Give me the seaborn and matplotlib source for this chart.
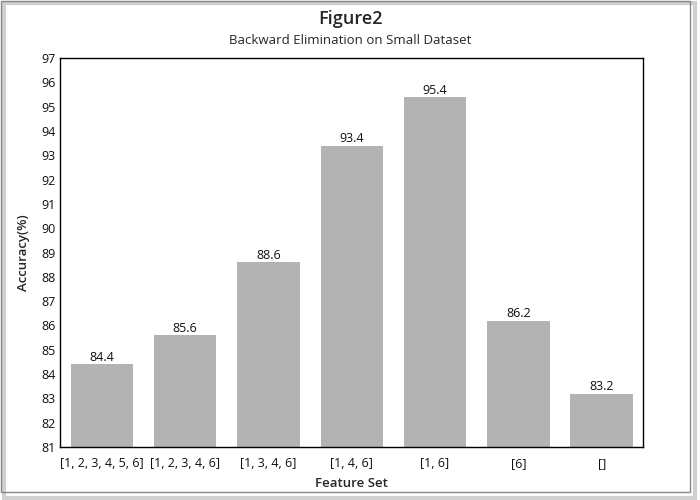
import matplotlib
matplotlib.use("Agg")
import matplotlib.pyplot as plt
import seaborn as sns
import pandas as pd
from matplotlib.patches import Rectangle

# data
feature_sets = ["[1, 2, 3, 4, 5, 6]", "[1, 2, 3, 4, 6]", "[1, 3, 4, 6]",
                "[1, 4, 6]", "[1, 6]", "[6]", "[]"]
accuracy = [84.4, 85.6, 88.6, 93.4, 95.4, 86.2, 83.2]
y_ticks = list(range(81, 98))

df = pd.DataFrame({"Feature Set": feature_sets, "Accuracy": accuracy})

sns.set_style("white")
plt.rcParams["font.family"] = ["Open Sans", "DejaVu Sans"]

fig = plt.figure(figsize=(7, 5), dpi=100)
ax = fig.add_axes([0.086, 0.106, 0.833, 0.778])

sns.barplot(data=df, x="Feature Set", y="Accuracy", color="#b3b3b3",
            saturation=1, width=0.75, linewidth=0, ax=ax)

for i, v in enumerate(accuracy):
    ax.text(i, v + 0.01, f"{v}", ha="center", va="bottom", fontsize=9, color="#111111")

ax.set_ylim(81, 97)
ax.set_yticks(y_ticks)
ax.tick_params(axis="both", length=0, labelsize=9, colors="#111111")
ax.tick_params(axis="x", pad=7)
ax.set_xlabel("Feature Set", fontsize=9.5, labelpad=5, fontweight="semibold")
ax.set_ylabel("Accuracy(%)", fontsize=9.5, labelpad=8, fontweight="semibold")
for s in ax.spines.values():
    s.set_color("black")
    s.set_linewidth(1)

fig.text(0.5, 0.953, "Figure2", ha="center", fontsize=13, fontweight="semibold")
fig.text(0.5, 0.913, "Backward Elimination on Small Dataset", ha="center", fontsize=9.5)

# card frame with a soft shadow
fig.patches.append(Rectangle((0.006, 0.004), 0.987, 0.99, transform=fig.transFigure,
                             facecolor="none", edgecolor="#d0d0d0", linewidth=3, zorder=0))
fig.patches.append(Rectangle((0.001, 0.016), 0.985, 0.983, transform=fig.transFigure,
                             facecolor="none", edgecolor="#888888", linewidth=1, zorder=1))

fig.savefig("out.png", dpi=100)
